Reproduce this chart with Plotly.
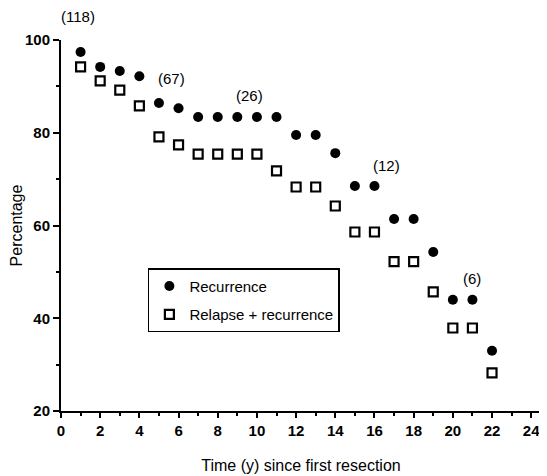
import plotly.graph_objects as go

years = list(range(1, 23))
recurrence = [97.4, 94.2, 93.3, 92.2, 86.4, 85.3, 83.4, 83.4, 83.4, 83.4, 83.4,
              79.5, 79.5, 75.6, 68.5, 68.5, 61.4, 61.4, 54.3, 44.0, 44.0, 33.0]
relapse_recurrence = [94.2, 91.2, 89.2, 85.8, 79.1, 77.4, 75.4, 75.4, 75.4, 75.4, 71.8,
                      68.3, 68.3, 64.2, 58.6, 58.6, 52.2, 52.2, 45.7, 37.9, 37.9, 28.2]
n_labels = ["(118)", "(67)", "(26)", "(12)", "(6)"]
n_x = [0.87, 5.66, 9.6, 16.6, 21.0]
n_y = [105.0, 91.8, 88.1, 73.0, 48.5]

font_family = "Liberation Sans, Arial, sans-serif"
Y_MIN, Y_MAX = 20, 100

fig = go.Figure()
fig.add_trace(go.Scatter(
    x=years, y=recurrence, mode="markers", name="Recurrence", legendgroup="a",
    marker=dict(symbol="circle", size=10, color="black"),
))
fig.add_trace(go.Scatter(
    x=years, y=relapse_recurrence, mode="markers", name="Relapse + recurrence", legendgroup="b",
    marker=dict(symbol="square-open", size=9, color="black", line=dict(width=2.2, color="black")),
))
for lab, xx, yy in zip(n_labels, n_x, n_y):
    # use the y-axis domain so labels above the axis range are still shown
    fig.add_annotation(x=xx, xref="x", y=(yy - Y_MIN) / (Y_MAX - Y_MIN), yref="y domain",
                       xanchor="center", yanchor="middle",
                       text=lab, showarrow=False,
                       font=dict(size=15, color="black", family=font_family))

fig.update_layout(
    width=539, height=468,
    margin=dict(l=53, r=6, t=32, b=65),
    plot_bgcolor="white", paper_bgcolor="white",
    font=dict(family=font_family, color="black"),
    showlegend=True,
    legend=dict(
        x=0.181, y=0.385, xanchor="left", yanchor="top",
        bordercolor="black", borderwidth=1.5, bgcolor="white",
        font=dict(size=15, color="black", family=font_family),
        itemwidth=30, tracegroupgap=6,
    ),
    xaxis=dict(
        range=[0, 24.5], tickmode="array", tickvals=list(range(0, 25, 2)),
        ticks="outside", ticklen=5, tickwidth=2, tickcolor="black",
        minor=dict(tickvals=list(range(1, 25, 2)), ticks="outside", ticklen=3, tickwidth=1.5, tickcolor="black"),
        showline=True, linecolor="black", linewidth=2, showgrid=False, zeroline=False,
        automargin=False,
        tickfont=dict(size=15, family=font_family, weight="bold"),
        title=dict(text="Time (y) since first resection", font=dict(size=16), standoff=22),
    ),
    yaxis=dict(
        range=[Y_MIN, Y_MAX], tickmode="array", tickvals=[20, 40, 60, 80, 100],
        ticks="outside", ticklen=6, tickwidth=2, tickcolor="black",
        minor=dict(tickvals=[30, 50, 70, 90], ticks="outside", ticklen=3, tickwidth=1.5, tickcolor="black"),
        showline=True, linecolor="black", linewidth=2, showgrid=False, zeroline=False,
        automargin=False,
        tickfont=dict(size=15, family=font_family, weight="bold"),
        title=dict(text="Percentage", font=dict(size=16), standoff=14),
    ),
)

fig.write_html("out.html")
